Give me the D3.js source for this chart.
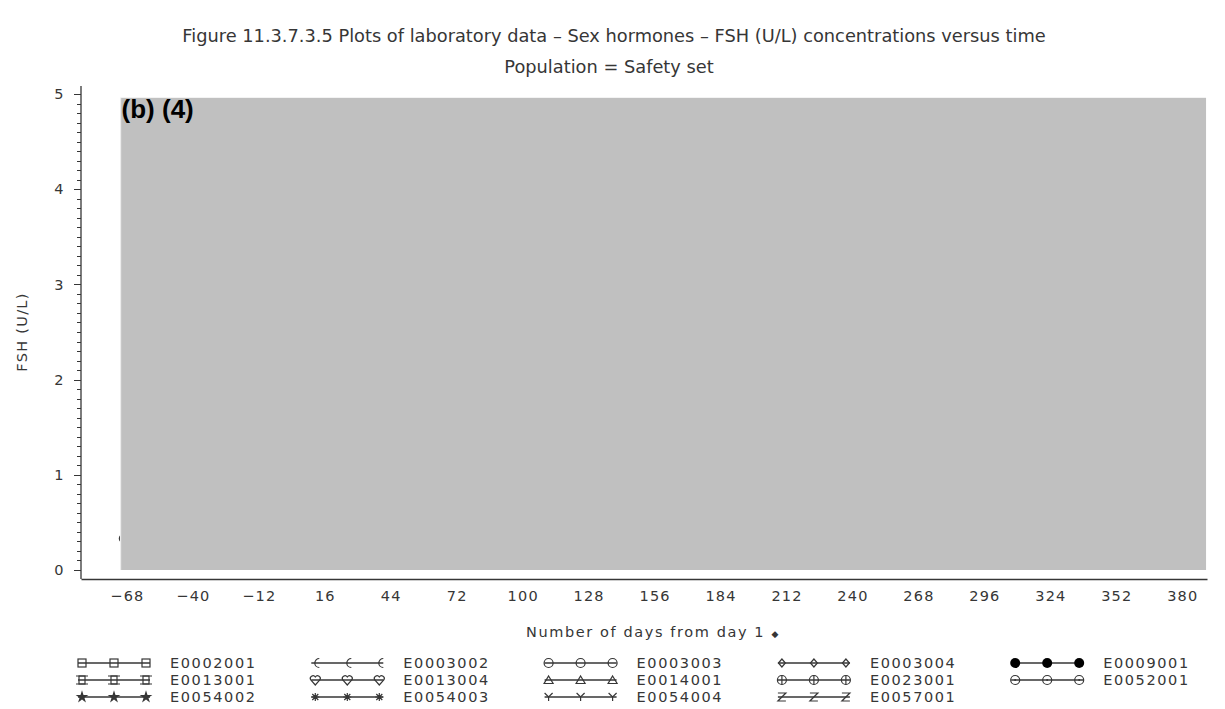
<!DOCTYPE html>
<html>
<head>
<meta charset="utf-8">
<script src="https://cdn.jsdelivr.net/npm/d3@7"></script>
<style>
  body { margin: 0; background: #fff; }
  svg text { font-family: "DejaVu Sans", sans-serif; fill: #363636; font-size: 14.5px; letter-spacing: 1.6px; }
</style>
</head>
<body>
<div id="chart"></div>
<script>
// chart texts
var titleText = 'Figure 11.3.7.3.5 Plots of laboratory data \u2013 Sex hormones \u2013 FSH (U/L) concentrations versus time';
var subtitleText = 'Population = Safety set';
var xLabel = 'Number of days from day 1';
var yLabel = 'FSH (U/L)';

// axis ticks
var xTicks = [-68, -40, -12, 16, 44, 72, 100, 128, 156, 184, 212, 240, 268, 296, 324, 352, 380];
var yTicks = [0, 1, 2, 3, 4, 5];

// the only visible data point (the rest is behind the redaction box)
var pointDays = [-69.5];
var pointValues = [0.33];

// redaction box in data units: [dayFrom, dayTo, valueFrom, valueTo]
var redactBox = [-70.7, 390.1, 0, 4.96];
var redactLabel = '(b) (4)';

// legend
var subjects = ['E0002001', 'E0013001', 'E0054002',
                'E0003002', 'E0013004', 'E0054003',
                'E0003003', 'E0014001', 'E0054004',
                'E0003004', 'E0023001', 'E0057001',
                'E0009001', 'E0052001'];
var symbols = ['square', 'squareTick', 'star',
               'euro', 'heart', 'asterisk',
               'theta', 'triangle', 'ychar',
               'diamond', 'oplus', 'zchar',
               'dot', 'odot'];

var width = 1225, height = 709;
var svg = d3.select('#chart').append('svg')
  .attr('width', width)
  .attr('height', height);

var x = d3.scaleLinear().domain([-87.5, 390.5]).range([81, 1207]);
var y = d3.scaleLinear().domain([0, 5]).range([570, 94]);
var ink = '#363636';

// titles
svg.append('text').attr('x', 614).attr('y', 42)
  .attr('text-anchor', 'middle')
  .style('font-size', '17.8px').style('letter-spacing', '0px')
  .text(titleText);
svg.append('text').attr('x', 609).attr('y', 73)
  .attr('text-anchor', 'middle')
  .style('font-size', '17.8px').style('letter-spacing', '0px')
  .text(subtitleText);

// data point (drawn under the box)
svg.selectAll('circle.pt')
  .data(pointDays)
  .enter().append('circle')
  .attr('class', 'pt')
  .attr('cx', function(d) { return x(d); })
  .attr('cy', function(d, i) { return y(pointValues[i]); })
  .attr('r', 4)
  .attr('fill', 'none')
  .attr('stroke', ink)
  .attr('stroke-width', 1.3);

// redaction box
svg.append('rect')
  .attr('x', x(redactBox[0]))
  .attr('y', y(redactBox[3]))
  .attr('width', x(redactBox[1]) - x(redactBox[0]))
  .attr('height', y(redactBox[2]) - y(redactBox[3]))
  .attr('fill', '#c0c0c0');
svg.append('line')
  .attr('x1', x(redactBox[0])).attr('x2', x(redactBox[0]))
  .attr('y1', y(redactBox[3])).attr('y2', y(redactBox[2]))
  .attr('stroke', '#ececec').attr('stroke-width', 1.2);
svg.append('text')
  .attr('x', x(redactBox[0]) + 1)
  .attr('y', y(redactBox[3]) + 20)
  .style('font-family', '"Liberation Sans", Arial, sans-serif')
  .style('font-weight', 'bold')
  .style('font-size', '26px')
  .style('letter-spacing', '0px')
  .style('fill', '#000')
  .text(redactLabel);

// y axis
var yAxis = svg.append('g').attr('transform', 'translate(81,0)');
yAxis.append('line').attr('y1', 86).attr('y2', 579)
  .attr('stroke', ink).attr('stroke-width', 1.3);
var minor = d3.range(0, 50.5, 1).map(function(d) { return d / 10; });
yAxis.selectAll('line.minor')
  .data(minor)
  .enter().append('line')
  .attr('class', 'minor')
  .attr('x1', function(d) { return yTicks.indexOf(d) >= 0 ? -7 : -4; })
  .attr('x2', 0)
  .attr('y1', function(d) { return Math.round(y(d)) + 0.5; })
  .attr('y2', function(d) { return Math.round(y(d)) + 0.5; })
  .attr('stroke', ink).attr('stroke-width', 1);
yAxis.selectAll('text.tick')
  .data(yTicks)
  .enter().append('text')
  .attr('class', 'tick')
  .attr('x', -16)
  .attr('y', function(d) { return y(d); })
  .attr('dy', '0.36em')
  .attr('text-anchor', 'end')
  .text(function(d) { return d; });
svg.append('text')
  .attr('transform', 'translate(27,332) rotate(-90)')
  .attr('text-anchor', 'middle')
  .style('letter-spacing', '1.3px')
  .text(yLabel);

// x axis
var xAxis = d3.axisBottom(x)
  .tickValues(xTicks)
  .tickSize(0)
  .tickPadding(12)
  .tickFormat(function(d) { return d < 0 ? '\u2212' + Math.abs(d) : d; });
var gx = svg.append('g').attr('transform', 'translate(0,579)').call(xAxis);
gx.select('.domain').attr('stroke', ink).attr('stroke-width', 1.4);
gx.selectAll('text')
  .style('font-family', '"DejaVu Sans", sans-serif')
  .style('font-size', '14.5px')
  .style('letter-spacing', '1.2px')
  .attr('fill', ink);

var xl = svg.append('text').attr('x', 653).attr('y', 637)
  .attr('text-anchor', 'middle')
  .text(xLabel + ' ');
xl.append('tspan').style('font-size', '9px').text('\u25C6');

// legend symbols
function drawSymbol(g, type) {
  var s = 4;
  var st = function(sel) {
    return sel.attr('fill', 'none').attr('stroke', ink).attr('stroke-width', 1.2);
  };
  switch (type) {
    case 'square':
      st(g.append('rect').attr('x', -s).attr('y', -s).attr('width', 2 * s).attr('height', 2 * s));
      break;
    case 'squareTick':
      st(g.append('rect').attr('x', -s + 1).attr('y', -s).attr('width', 2 * s - 2).attr('height', 2 * s));
      st(g.append('path').attr('d', 'M-6,-4H6M-6,4H6'));
      break;
    case 'star':
      g.append('path').attr('d', d3.symbol(d3.symbolStar, 50)()).attr('fill', ink);
      break;
    case 'euro':
      st(g.append('path').attr('d', 'M4,-4.5A4.5,4.5 0 1 0 4,4.5').attr('stroke-width', 2));
      break;
    case 'heart':
      st(g.append('path').attr('d', 'M0,5L-4.5,0A2.4,2.4 0 0 1 0,-3A2.4,2.4 0 0 1 4.5,0Z'));
      break;
    case 'asterisk':
      st(g.append('path').attr('d', 'M-4,0H4M0,-4V4M-3,-3L3,3M-3,3L3,-3').attr('stroke-width', 1.6));
      break;
    case 'theta':
      st(g.append('circle').attr('r', s + 0.5));
      break;
    case 'triangle':
      st(g.append('path').attr('d', 'M0,-4L4.5,3.5H-4.5Z'));
      break;
    case 'ychar':
      st(g.append('path').attr('d', 'M-4,-4L0,0L4,-4M0,0V4'));
      break;
    case 'diamond':
      st(g.append('path').attr('d', 'M0,-4L3.5,0L0,4L-3.5,0Z'));
      break;
    case 'oplus':
      st(g.append('circle').attr('r', s + 0.5));
      st(g.append('path').attr('d', 'M0,-4.5V4.5'));
      break;
    case 'zchar':
      st(g.append('path').attr('d', 'M-4,-4H4L-4,4H4'));
      break;
    case 'dot':
      g.append('circle').attr('r', 5).attr('fill', '#000');
      break;
    case 'odot':
      st(g.append('circle').attr('r', s + 0.5));
      g.append('circle').attr('r', 1).attr('fill', ink);
      break;
  }
}

var legend = svg.append('g');
var items = legend.selectAll('g.item')
  .data(subjects)
  .enter().append('g')
  .attr('class', 'item')
  .attr('transform', function(d, i) {
    var col = Math.floor(i / 3), row = i % 3;
    return 'translate(' + (170 + col * 233.3) + ',' + (663 + row * 17) + ')';
  });
items.append('line')
  .attr('x1', -92).attr('x2', -20)
  .attr('stroke', ink).attr('stroke-width', 1.4);
items.each(function(d, i) {
  var g = d3.select(this);
  [-88, -56, -24].forEach(function(off) {
    var sg = g.append('g').attr('transform', 'translate(' + off + ',0)');
    drawSymbol(sg, symbols[i]);
  });
});
items.append('text')
  .attr('x', 0)
  .attr('dy', '0.36em')
  .text(function(d) { return d; });
</script>
</body>
</html>
